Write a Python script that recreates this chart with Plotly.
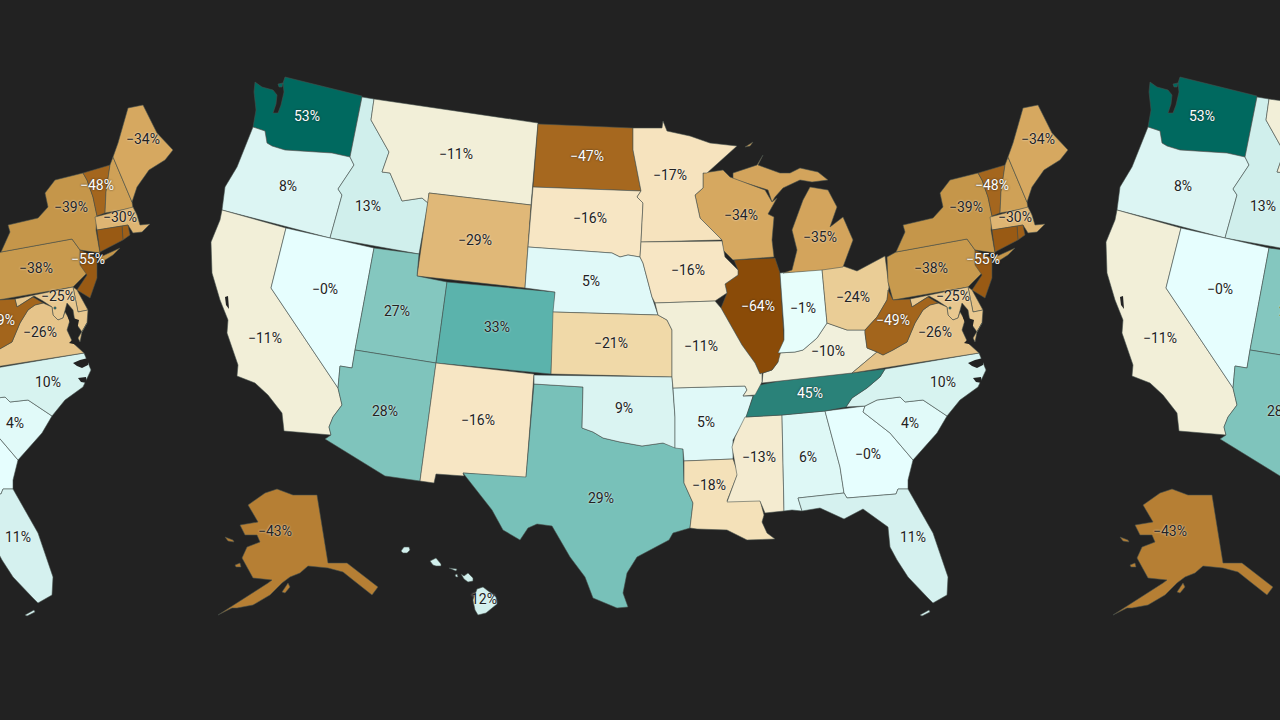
"""
Filename: plot.py
Description: Mapa dos estados dos EUA, repetido em faixa, colorido pela variacao percentual.
"""

import numpy as np
import plotly.graph_objects as go

# Valores por estado (sem rotulo: NH, RI, DE, DC)
estados = ["WA", "OR", "ID", "MT", "WY", "CA", "NV", "UT", "CO", "AZ", "NM", "TX", "ND", "SD", "NE", "KS", "OK",
           "AR", "LA", "MS", "AL", "GA", "FL", "SC", "NC", "TN", "KY", "IL", "IN", "OH", "MI", "WI", "MN", "IA",
           "MO", "PA", "NY", "VT", "NH", "ME", "MA", "RI", "CT", "NJ", "DE", "MD", "VA", "WV", "DC", "AK", "HI"]
valores = [53, 8, 13, -11, -29, -11, -0.4, 27, 33, 28, -16, 29, -47, -16, 5, -21, 9,
           5, -18, -13, 6, -0.4, 11, 4, 10, 45, -10, -64, -1, -24, -35, -34, -17, -16,
           -11, -38, -39, -48, -36, -34, -30, -52, -55, -55, -27, -25, -26, -49, 45, -43, 12]

# Rotulos: texto e posicao sobre o mapa central
rotulos = ["53%", "8%", "13%", "−11%", "−29%", "−11%", "−0%", "27%", "33%", "28%", "−16%", "29%", "−47%", "−16%",
           "5%", "−21%", "9%", "5%", "−18%", "−13%", "6%", "−0%", "11%", "4%", "10%", "45%", "−10%", "−64%", "−1%",
           "−24%", "−35%", "−34%", "−17%", "−16%", "−11%", "−38%", "−39%", "−48%", "−34%", "−30%", "−55%", "−25%",
           "−26%", "−49%", "−43%", "12%"]
rotulos_x = [307, 288, 368, 456, 475, 265, 325, 397, 497, 385, 478, 601, 587, 590,
             591, 611, 624, 706, 709, 759, 808, 868, 913, 910, 943, 810, 828, 758, 803,
             853, 820, 741, 670, 688, 701, 931, 966, 992, 1038, 1015, 983, 953,
             935, 893, 275, 484]
rotulos_y = [117, 187, 207, 155, 241, 339, 290, 312, 328, 412, 421, 499, 157, 219,
             282, 344, 409, 423, 486, 458, 458, 455, 538, 424, 383, 394, 352, 307, 309,
             298, 238, 216, 176, 271, 347, 269, 208, 186, 140, 218, 260, 297,
             333, 321, 532, 600]
rotulos_claros = ["53%", "45%", "−47%", "−64%", "−49%", "−55%", "−48%"]

# Escala de cores
escala_valor = [-64, -47, -39, -34, -29, -21, -16, -11, 0, 8, 13, 28, 33, 45, 53]
escala_r = [138, 166, 197, 214, 224, 240, 247, 242, 230, 220, 208, 127, 91, 42, 0]
escala_g = [75, 104, 150, 168, 184, 217, 230, 239, 255, 245, 239, 196, 179, 130, 105]
escala_b = [8, 31, 74, 96, 120, 168, 196, 216, 255, 243, 236, 188, 172, 121, 95]

# Contornos dos estados (um estado pode ter mais de um anel)
contornos = {
    "WA": [[(255, 82), (262, 87), (273, 90), (277, 95), (276, 104), (273, 113), (278, 113), (281, 105), (284, 92),
            (283, 83), (285, 77), (362, 96), (350, 157), (332, 153), (302, 151), (285, 150), (272, 146), (267, 143),
            (265, 131), (258, 129), (253, 127), (256, 110), (254, 92)],
           [(278, 84), (283, 83), (282, 87), (279, 87)]],
    "OR": [[(253, 127), (258, 129), (265, 131), (267, 143), (272, 146), (285, 150), (302, 151), (332, 153), (350, 157),
            (354, 165), (338, 189), (342, 195), (330, 238), (222, 210), (225, 187), (237, 167)]],
    "ID": [[(362, 97), (374, 99), (371, 120), (389, 152), (382, 172), (390, 173), (402, 201), (422, 198), (428, 203),
            (419, 254), (330, 238), (342, 195), (338, 189), (354, 165), (350, 157)]],
    "MT": [[(374, 99), (538, 123), (531, 205), (429, 193), (428, 203), (422, 198), (402, 201), (390, 173), (382, 172),
            (389, 152), (371, 120)]],
    "WY": [[(429, 193), (531, 205), (525, 288), (417, 276)]],
    "CA": [[(222, 210), (286, 228), (271, 288), (338, 388), (342, 405), (333, 417), (329, 427), (331, 435), (284, 431),
            (282, 413), (268, 395), (255, 383), (237, 376), (238, 365), (227, 333), (228, 320), (220, 300), (212, 273),
            (211, 242), (220, 220)]],
    "NV": [[(286, 228), (374, 248), (355, 350), (352, 368), (340, 366), (338, 388), (271, 288)]],
    "UT": [[(374, 248), (419, 254), (417, 276), (447, 282), (436, 363), (355, 350)]],
    "CO": [[(447, 282), (555, 292), (551, 374), (436, 363)]],
    "AZ": [[(355, 350), (436, 363), (420, 481), (385, 476), (325, 439), (331, 435), (329, 427), (333, 417), (342, 405),
            (338, 388), (340, 366), (352, 368)]],
    "NM": [[(436, 363), (534, 374), (526, 478), (463, 473), (464, 476), (436, 474), (434, 483), (420, 481)]],
    "TX": [[(534, 384), (583, 387), (582, 428), (593, 432), (603, 438), (620, 442), (642, 446), (663, 443), (683, 449),
            (684, 483), (693, 503), (690, 528), (673, 533), (669, 540), (637, 557), (627, 573), (623, 593), (628, 607),
            (617, 608), (593, 598), (585, 577), (570, 557), (552, 526), (537, 524), (528, 528), (520, 540), (503, 530),
            (492, 510), (463, 473), (526, 477)]],
    "ND": [[(538, 124), (633, 128), (633, 150), (641, 191), (533, 187)]],
    "SD": [[(533, 187), (641, 191), (637, 197), (643, 203), (641, 242), (640, 257), (628, 255), (620, 257), (612, 253),
            (528, 247)]],
    "NE": [[(528, 247), (612, 253), (620, 257), (628, 255), (640, 257), (643, 263), (652, 297), (658, 315), (553, 312),
            (555, 292), (525, 288)]],
    "KS": [[(553, 312), (658, 315), (667, 320), (672, 330), (672, 377), (551, 374)]],
    "OK": [[(534, 375), (672, 377), (675, 417), (675, 448), (663, 443), (642, 446), (620, 442), (603, 438), (593, 432),
            (582, 428), (583, 387), (534, 384)]],
    "AR": [[(673, 388), (745, 386), (747, 390), (743, 396), (753, 396), (746, 418), (733, 440), (733, 459), (684, 461),
            (683, 449), (675, 448), (675, 417)]],
    "LA": [[(684, 461), (733, 459), (738, 473), (727, 501), (760, 500), (764, 515), (762, 522), (767, 533), (775, 539),
            (747, 540), (727, 530), (697, 529), (690, 528), (693, 503), (684, 483)]],
    "MS": [[(745, 417), (782, 415), (784, 511), (765, 513), (760, 501), (727, 502), (737, 475), (732, 447), (735, 437)]],
    "AL": [[(782, 415), (825, 411), (840, 467), (844, 493), (798, 498), (802, 511), (792, 510), (784, 511)]],
    "GA": [[(825, 411), (865, 406), (863, 412), (890, 433), (913, 460), (908, 480), (908, 489), (898, 489), (896, 494),
            (847, 498), (844, 493), (840, 467)]],
    "FL": [[(798, 498), (844, 493), (847, 498), (896, 494), (898, 489), (908, 489), (933, 533), (948, 577), (947, 595),
            (933, 603), (927, 597), (908, 577), (897, 560), (890, 547), (888, 527), (863, 509), (844, 519), (820, 508),
            (802, 511)],
           [(920, 615), (929, 610), (930, 612), (922, 616)]],
    "SC": [[(865, 406), (877, 400), (900, 397), (905, 402), (923, 400), (947, 416), (937, 433), (913, 460), (890, 433),
            (863, 412)]],
    "NC": [[(885, 369), (979, 353), (986, 370), (978, 387), (960, 400), (947, 416), (923, 400), (905, 402), (900, 397),
            (877, 400), (865, 406), (846, 407), (852, 398), (867, 388), (880, 377)]],
    "TN": [[(755, 386), (780, 381), (852, 373), (885, 369), (880, 377), (867, 388), (852, 398), (846, 407), (825, 411),
            (782, 415), (746, 417), (753, 397)]],
    "KY": [[(762, 383), (763, 373), (772, 370), (778, 362), (778, 353), (795, 352), (803, 350), (817, 338), (827, 323),
            (847, 330), (865, 330), (865, 333), (867, 348), (877, 352), (852, 373), (780, 381)]],
    "IL": [[(734, 260), (775, 258), (780, 273), (784, 330), (784, 340), (778, 362), (772, 370), (760, 374), (755, 363),
            (742, 345), (721, 308), (727, 293), (725, 284), (738, 275), (738, 270)]],
    "IN": [[(780, 273), (822, 269), (827, 323), (817, 338), (803, 350), (795, 352), (778, 353), (784, 340), (784, 330)]],
    "OH": [[(822, 269), (843, 266), (857, 271), (885, 256), (889, 287), (887, 300), (877, 317), (865, 330), (847, 330),
            (827, 323)]],
    "MI": [[(783, 273), (792, 270), (797, 250), (792, 230), (803, 200), (810, 187), (828, 190), (837, 207), (830, 227),
            (843, 217), (853, 240), (843, 267), (822, 270)],
           [(733, 173), (757, 165), (763, 155), (758, 165), (780, 173), (790, 173), (800, 168), (818, 172), (828, 180),
            (812, 182), (800, 180), (783, 188), (775, 197), (772, 202), (768, 190), (733, 179)],
           [(745, 147), (753, 142), (750, 146)]],
    "WI": [[(703, 173), (723, 170), (730, 177), (765, 190), (772, 202), (777, 198), (768, 214), (774, 217), (772, 240),
            (774, 257), (733, 260), (723, 250), (722, 240), (700, 218), (695, 195), (703, 188)]],
    "MN": [[(633, 128), (662, 128), (663, 121), (667, 131), (690, 136), (710, 143), (737, 146), (707, 173), (703, 173),
            (703, 188), (695, 195), (700, 218), (722, 240), (641, 242), (643, 203), (637, 197), (641, 191), (633, 150)]],
    "IA": [[(641, 242), (722, 241), (725, 257), (738, 270), (738, 275), (725, 284), (727, 293), (715, 301), (655, 303),
            (652, 297), (643, 263), (640, 257)]],
    "MO": [[(655, 303), (715, 301), (721, 308), (742, 345), (755, 363), (760, 374), (762, 373), (762, 382), (755, 395),
            (743, 396), (747, 390), (745, 386), (673, 388), (672, 377), (672, 330), (667, 320), (658, 315)]],
    "PA": [[(887, 257), (896, 252), (967, 239), (975, 250), (982, 273), (968, 287), (893, 300), (888, 282)]],
    "NY": [[(896, 252), (905, 232), (903, 225), (933, 218), (943, 207), (940, 193), (950, 180), (978, 173), (982, 180),
            (988, 197), (992, 216), (991, 230), (995, 253), (975, 250), (967, 239)],
           [(993, 258), (1015, 248), (1008, 255), (997, 262)]],
    "VT": [[(978, 173), (1005, 165), (1001, 192), (1000, 213), (992, 216), (988, 197), (982, 180)]],
    "NH": [[(1005, 165), (1008, 157), (1027, 202), (1028, 208), (1000, 213), (1001, 192)]],
    "ME": [[(1008, 157), (1013, 143), (1023, 108), (1038, 105), (1052, 133), (1068, 150), (1060, 160), (1044, 170),
            (1032, 187), (1027, 202)]],
    "MA": [[(990, 217), (1028, 207), (1032, 215), (1035, 225), (1045, 224), (1037, 232), (1028, 233), (1023, 225),
            (992, 230)]],
    "RI": [[(1017, 226), (1023, 225), (1025, 235), (1018, 240)]],
    "CT": [[(992, 230), (1017, 226), (1018, 240), (995, 252)]],
    "NJ": [[(975, 250), (992, 258), (992, 278), (985, 298), (972, 290), (982, 275), (975, 265)]],
    "DE": [[(968, 287), (972, 290), (983, 310), (973, 312)]],
    "MD": [[(910, 299), (968, 287), (973, 312), (983, 310), (982, 323), (977, 332), (970, 322), (968, 310), (962, 303),
            (960, 312), (958, 318), (953, 320), (948, 315), (947, 307), (938, 301), (929, 296), (912, 307)]],
    "VA": [[(852, 373), (877, 352), (883, 355), (893, 350), (907, 342), (915, 323), (923, 310), (930, 305), (938, 303),
            (947, 307), (948, 315), (953, 320), (958, 318), (960, 312), (965, 320), (962, 330), (968, 343), (979, 353)],
           [(982, 323), (977, 332), (975, 342), (973, 338)]],
    "WV": [[(888, 290), (893, 300), (910, 299), (912, 307), (928, 297), (938, 303), (930, 305), (923, 310), (915, 323),
            (907, 342), (893, 350), (883, 355), (877, 352), (867, 348), (865, 333), (865, 330), (877, 317), (887, 300)]],
    "DC": [[(949, 307), (951, 307), (951, 309), (949, 309)]],
    "AK": [[(317, 495), (328, 563), (333, 563), (347, 563), (378, 587), (372, 595), (353, 580), (343, 572), (328, 568),
            (308, 566), (300, 573), (290, 577), (282, 583), (270, 595), (253, 605), (237, 608), (232, 608), (218, 615),
            (268, 583), (272, 580), (253, 578), (242, 558), (247, 547), (260, 542), (257, 535), (245, 535), (240, 525),
            (258, 522), (248, 505), (265, 493), (277, 489), (293, 495)],
           [(282, 592), (288, 583), (290, 587), (285, 593)],
           [(225, 537), (233, 540), (234, 542), (228, 541)],
           [(235, 565), (240, 563), (241, 567), (236, 567)]],
    "HI": [[(401, 551), (404, 547), (409, 547), (410, 550), (407, 553), (403, 553)],
           [(430, 561), (436, 558), (441, 564), (441, 566), (436, 566), (433, 565)],
           [(449, 568), (457, 569), (456, 571), (451, 569)],
           [(455, 575), (457, 574), (458, 577), (456, 577)],
           [(461, 574), (464, 576), (468, 573), (473, 578), (473, 581), (468, 582), (464, 579)],
           [(477, 589), (483, 587), (496, 597), (497, 604), (486, 613), (478, 615), (475, 610), (473, 600)]],
}

# Agua desenhada por cima: baias e estuarios
aguas = [
    [(961, 308), (965, 312), (968, 318), (974, 320), (972, 330), (973, 345), (964, 343), (969, 338), (966, 325),
     (963, 318)],
    [(968, 363), (975, 360), (983, 358), (983, 365), (977, 368), (972, 366)],
    [(973, 378), (981, 377), (982, 383), (976, 382)],
    [(225, 297), (228, 296), (229, 309), (226, 305)],
]

# O mapa se repete a cada 895 px
deslocamentos = [-895, 0, 895]

FUNDO = "#222222"


def cor(valor):
    r = np.interp(valor, escala_valor, escala_r)
    g = np.interp(valor, escala_valor, escala_g)
    b = np.interp(valor, escala_valor, escala_b)
    return f"rgb({r:.0f},{g:.0f},{b:.0f})"


def anel_xy(aneis, dx):
    xs, ys = [], []
    for anel in aneis:
        xs += [p[0] + dx for p in anel] + [anel[0][0] + dx, None]
        ys += [p[1] for p in anel] + [anel[0][1], None]
    return xs, ys


fig = go.Figure()

for dx in deslocamentos:
    for estado, valor in zip(estados, valores):
        xs, ys = anel_xy(contornos[estado], dx)
        fig.add_trace(go.Scatter(
            x=xs, y=ys, mode="lines", fill="toself", fillcolor=cor(valor),
            line=dict(color="rgba(70,80,78,0.7)", width=0.8),
            hoverinfo="skip", showlegend=False))

    xs, ys = anel_xy(aguas, dx)
    fig.add_trace(go.Scatter(
        x=xs, y=ys, mode="lines", fill="toself", fillcolor=FUNDO,
        line=dict(color=FUNDO, width=0), hoverinfo="skip", showlegend=False))

    # Rotulos escuros com halo claro e rotulos claros com halo escuro
    for claro in [False, True]:
        idx = [i for i, r in enumerate(rotulos) if (r in rotulos_claros) == claro]
        fig.add_trace(go.Scatter(
            x=[rotulos_x[i] + dx for i in idx], y=[rotulos_y[i] for i in idx],
            mode="text", text=[rotulos[i] for i in idx], textposition="middle center",
            textfont=dict(
                family="Roboto", size=14, color="#ffffff" if claro else "#222222",
                shadow="0 0 2px rgba(30,30,30,0.9)" if claro else "0 0 2px rgba(255,255,255,0.95)"),
            hoverinfo="skip", showlegend=False))

fig.update_layout(
    width=1280,
    height=720,
    autosize=False,
    margin=dict(l=0, r=0, t=0, b=0),
    paper_bgcolor=FUNDO,
    plot_bgcolor=FUNDO,
    showlegend=False,
    xaxis=dict(range=[0, 1280], visible=False, fixedrange=True),
    yaxis=dict(range=[720, 0], visible=False, fixedrange=True),
)

fig.write_html("out.html", config={"displayModeBar": False},
               post_script="document.body.style.margin='0';document.body.style.background='#222222';")
